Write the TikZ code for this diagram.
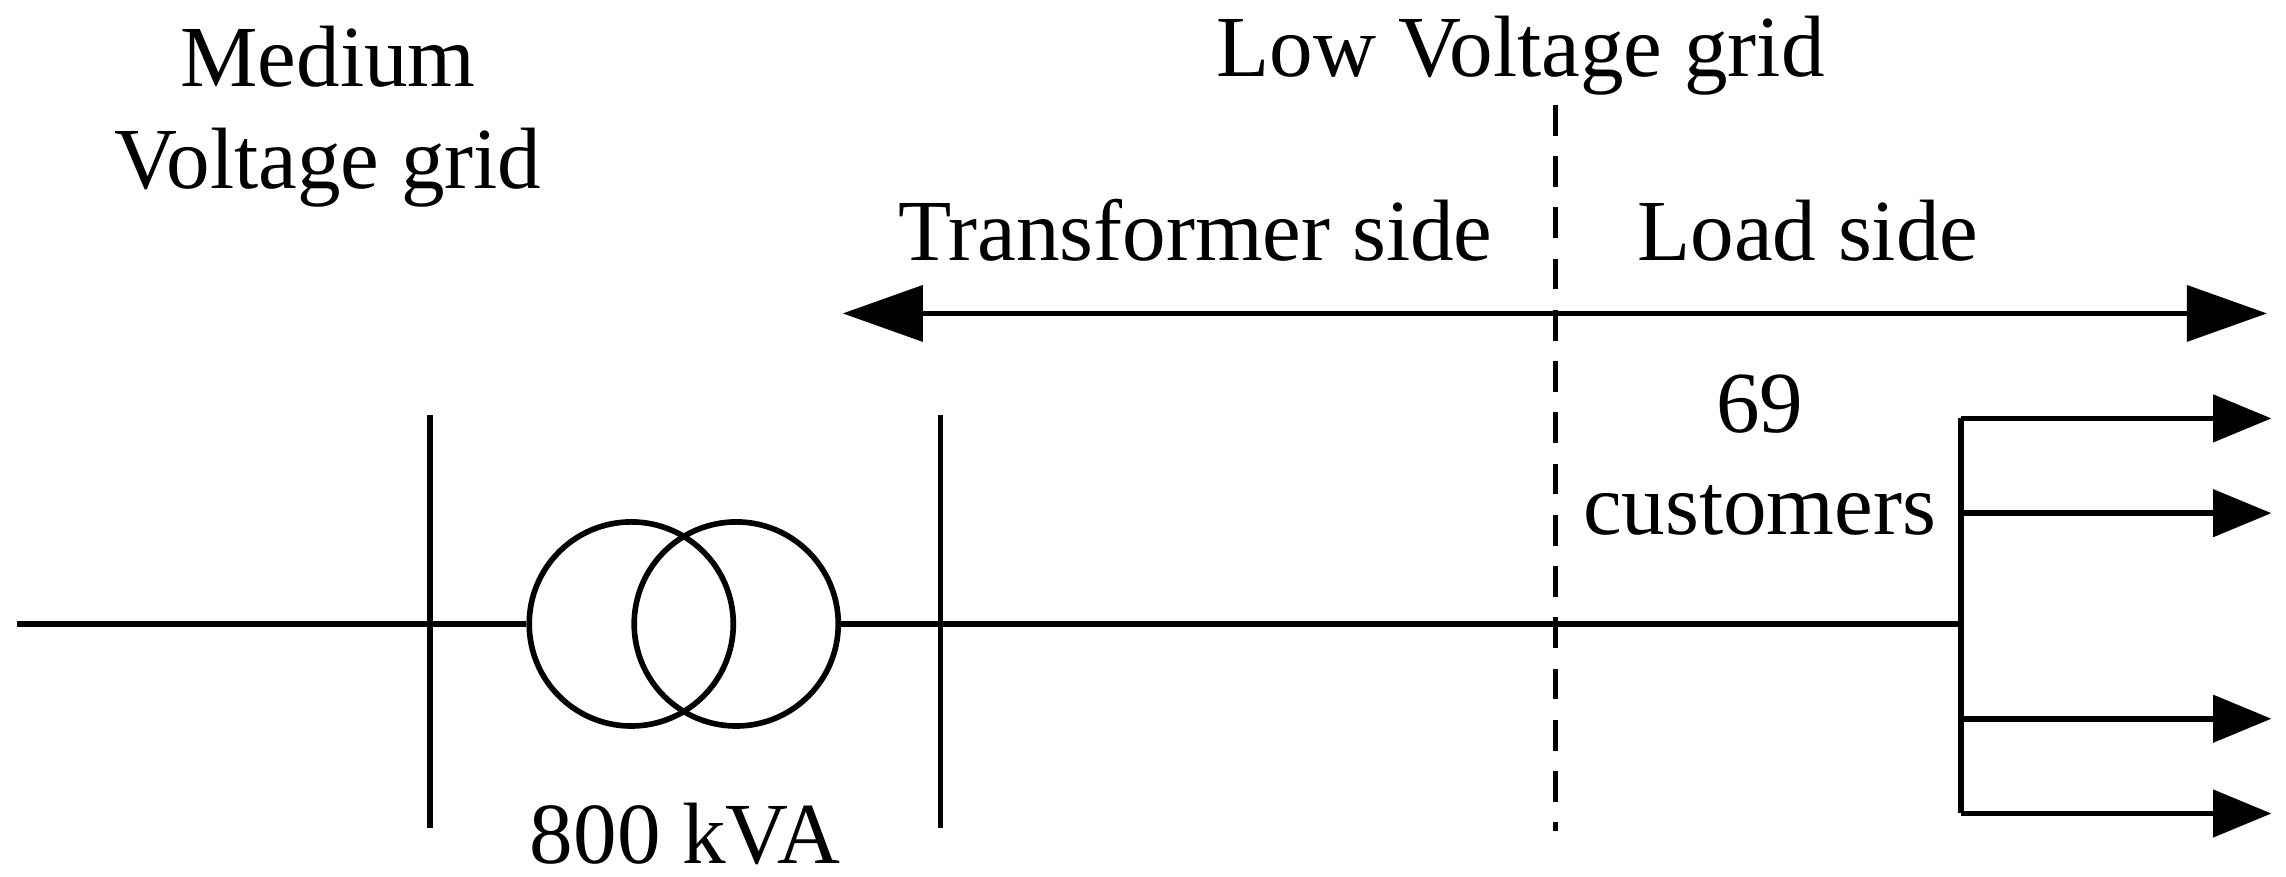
\documentclass[tikz,border=0pt]{standalone}
\usepackage{fontspec}
\setmainfont{Liberation Serif}
\usetikzlibrary{arrows.meta}
\tikzset{
  wire/.style={line width=1.1pt},
  small/.style={-{Triangle[length=4mm,width=3.2mm]}},
  txt/.style={font=\fontsize{17}{21}\selectfont, align=center, inner sep=0pt}
}
\begin{document}
\begin{tikzpicture}[x=0.1mm,y=-0.1mm]
    \useasboundingbox (0,0) rectangle (1568,601);

    % labels
    \node[txt] (mv) at (225,80) {Medium\\[-1pt]Voltage grid};
    \node[txt] (lv) at (1043,38) {Low Voltage grid};
    \node[txt] (ts) at (820,158) {Transformer side};
    \node[txt] (ls) at (1240,158) {Load side};
    \node[txt] (cu) at (1207,312) {69\\[-1pt]customers};
    \node[txt] (kva) at (470,572) {800 kVA};

    % transformer
    \node[wire, draw, circle, minimum size=14mm] (w1) at (433,428) {};
    \node[wire, draw, circle, minimum size=14mm] (w2) at (505,428) {};

    % main line
    \coordinate (in) at (12,428);
    \coordinate (feed) at (1345,428);
    \draw[wire] (in) -- (w1.west);
    \draw[wire] (w2.east) -- (feed);

    % bus bars
    \coordinate (b1t) at (295,285);
    \coordinate (b1b) at (295,568);
    \coordinate (b2t) at (645,285);
    \coordinate (b2b) at (645,568);
    \draw[wire] (b1t) -- (b1b);
    \draw[wire] (b2t) -- (b2b);

    % boundary
    \coordinate (dt) at (1067,72);
    \coordinate (db) at (1067,570);
    \draw[wire, dash pattern=on 6pt off 4pt] (dt) -- (db);

    % extent arrow
    \coordinate (al) at (578,215);
    \coordinate (ar) at (1555,215);
    \draw[wire, {Triangle[length=5.5mm,width=3.8mm]}-{Triangle[length=5.5mm,width=3.8mm]}] (al) -- (ar);

    % customers
    \coordinate (ft) at (1345,287);
    \coordinate (fb) at (1345,558);
    \draw[wire] (ft) -- (fb);
    \foreach \y [count=\i] in {287,352,493,558} {
      \coordinate (c\i) at (1345,\y);
      \coordinate (e\i) at (1558,\y);
      \draw[wire, small] (c\i) -- (e\i);
    }
\end{tikzpicture}
\end{document}
